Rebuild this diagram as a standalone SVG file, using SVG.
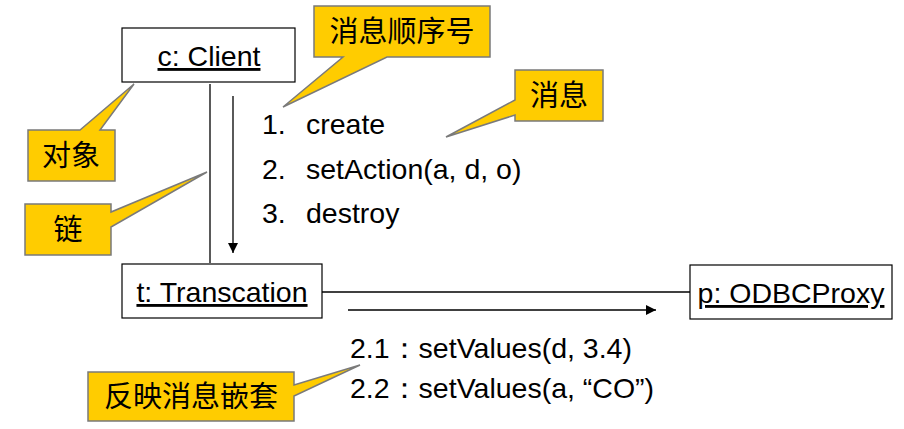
<svg xmlns="http://www.w3.org/2000/svg" width="904" height="429" viewBox="0 0 904 429">
<defs>
<marker id="ah" viewBox="0 0 10 10" refX="10" refY="5" markerWidth="10" markerHeight="10" markerUnits="userSpaceOnUse" orient="auto"><path d="M0,0 L10,5 L0,10 z" fill="#000"/></marker>
</defs>
<style>
.box{fill:#fff;stroke:#000;stroke-width:1.2}
.t{font-family:"Liberation Sans",Arial,sans-serif;font-size:28.5px;fill:#000}
.u{text-decoration:underline}
.co{fill:#FFCC00;stroke:#7a7a7a;stroke-width:1.5}
.ct{font-family:"Noto Sans CJK SC","Liberation Sans",sans-serif;font-size:29px;fill:#000}
.ln{stroke:#000;stroke-width:1.3;fill:none}
</style>
<rect width="904" height="429" fill="#fff"/>
<g id="connectors">
<line class="ln" x1="210" y1="84" x2="210" y2="263"/>
<line class="ln" x1="322" y1="292" x2="690" y2="292"/>
<line class="ln" x1="233" y1="96" x2="233" y2="253" stroke-width="2" marker-end="url(#ah)"/>
<line class="ln" x1="348" y1="310" x2="656" y2="310" stroke-width="2" marker-end="url(#ah)"/>
</g>
<g id="client"><rect class="box" x="122" y="28" width="173" height="54"/><text class="t u" x="209" y="66" text-anchor="middle">c: Client</text></g>
<g id="transaction"><rect class="box" x="122" y="264" width="200" height="54"/><text class="t u" x="222" y="302" text-anchor="middle">t: Transcation</text></g>
<g id="proxy"><rect class="box" x="690" y="265" width="202" height="54"/><text class="t u" x="791" y="303" text-anchor="middle">p: ODBCProxy</text></g>
<g id="messages">
<text class="t" x="262" y="134">1.</text><text class="t" x="306" y="134">create</text>
<text class="t" x="262" y="179">2.</text><text class="t" x="306" y="179">setAction(a, d, o)</text>
<text class="t" x="262" y="223">3.</text><text class="t" x="306" y="223">destroy</text>
<text class="t" x="350" y="358">2.1：setValues(d, 3.4)</text>
<text class="t" x="350" y="398">2.2：setValues(a, “CO”)</text>
</g>
<g id="callout-seq"><path class="co" d="M314,6 H490 V57 H387 L283,107 L343,57 H314 Z"/><text class="ct" x="402" y="42" text-anchor="middle">消息顺序号</text></g>
<g id="callout-msg"><path class="co" d="M515,70 H603 V121 H515 V115 L446,137 L515,100 Z"/><text class="ct" x="559" y="106" text-anchor="middle">消息</text></g>
<g id="callout-obj"><path class="co" d="M28,130 H80 L134,84 L100,130 H115 V181 H28 Z"/><text class="ct" x="71" y="166" text-anchor="middle">对象</text></g>
<g id="callout-link"><path class="co" d="M25,204 H111 V212 L207,172 L111,227 V255 H25 Z"/><text class="ct" x="68" y="240" text-anchor="middle">链</text></g>
<g id="callout-nest"><path class="co" d="M88,372 H294 V385 L360,365 L294,396 V421 H88 Z"/><text class="ct" x="191" y="407" text-anchor="middle">反映消息嵌套</text></g>
</svg>
